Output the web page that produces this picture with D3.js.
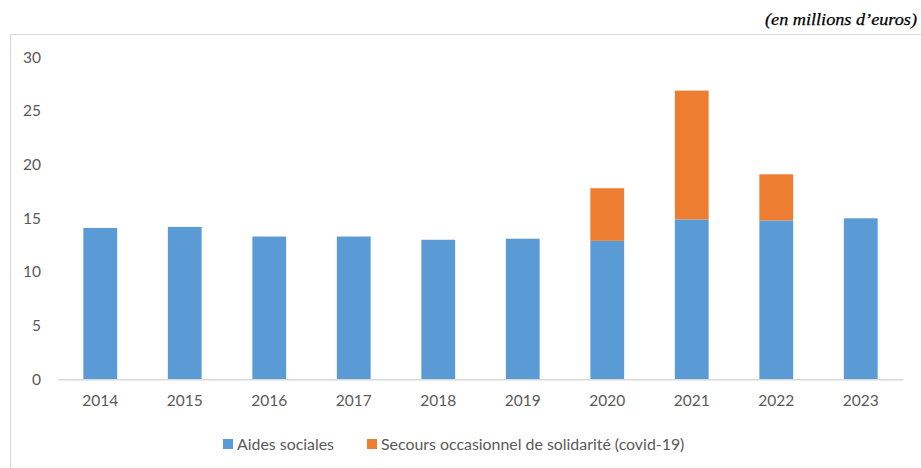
<!DOCTYPE html>
<html lang="fr">
<head>
<meta charset="utf-8">
<script src="https://cdn.jsdelivr.net/npm/d3@7"></script>
<style>
  html, body { margin: 0; padding: 0; background: #fff; }
  svg { display: block; }
</style>
</head>
<body>
<svg id="chart" width="921" height="468"></svg>
<script>
// Years on the category axis
const years = ["2014", "2015", "2016", "2017", "2018", "2019", "2020", "2021", "2022", "2023"];
// Aides sociales (millions d'euros)
const aidesSociales = [14.1, 14.2, 13.3, 13.3, 13.0, 13.1, 12.9, 14.9, 14.8, 15.0];
// Secours occasionnel de solidarité (covid-19), stacked on top
const secoursCovid = [0, 0, 0, 0, 0, 0, 4.9, 12.0, 4.3, 0];
// Value axis ticks
const yTicks = [0, 5, 10, 15, 20, 25, 30];
const seriesNames = ["Aides sociales", "Secours occasionnel de solidarité (covid-19)"];
const seriesColors = ["#5b9bd5", "#ed7d31"];

const svg = d3.select("#chart");
const font = "Lato, 'Open Sans', sans-serif";
const textColor = "#595959";

const margin = { left: 58, right: 18, top: 57.3, bottom: 88.7 };
const W = 921, H = 468;

const x = d3.scaleBand()
  .domain(years)
  .range([margin.left, W - margin.right])
  .paddingInner(0.6)
  .paddingOuter(0.3);

const y = d3.scaleLinear()
  .domain([0, 30])
  .range([H - margin.bottom, margin.top]);

// Outer frame (top and left edges visible)
svg.append("path")
  .attr("d", `M10.5,${H} L10.5,34.5 L${W},34.5`)
  .attr("fill", "none")
  .attr("stroke", "#d9d9d9")
  .attr("stroke-width", 1.2);

// Unit caption
svg.append("text")
  .attr("x", 917)
  .attr("y", 25)
  .attr("text-anchor", "end")
  .attr("font-family", "'Liberation Serif', 'Times New Roman', serif")
  .attr("font-style", "italic")
  .attr("font-size", 17)
  .attr("fill", "#000")
  .attr("stroke", "#000")
  .attr("stroke-width", 0.25)
  .attr("textLength", 152)
  .attr("lengthAdjust", "spacingAndGlyphs")
  .text("(en millions d\u2019euros)");

// Stacked data
const rows = years.map((yr, i) => ({ year: yr, a: aidesSociales[i], s: secoursCovid[i] }));
const stack = d3.stack().keys(["a", "s"]);
const layers = stack(rows);

svg.append("g")
  .selectAll("g")
  .data(layers)
  .join("g")
  .attr("fill", (d, i) => seriesColors[i])
  .selectAll("rect")
  .data(d => d.filter(p => p[1] - p[0] > 0))
  .join("rect")
  .attr("x", d => x(d.data.year))
  .attr("width", x.bandwidth())
  .attr("y", d => y(d[1]))
  .attr("height", d => y(d[0]) - y(d[1]));

// Value axis (labels only)
const yAxis = svg.append("g")
  .attr("transform", `translate(41,0)`)
  .call(d3.axisLeft(y).tickValues(yTicks).tickSize(0).tickPadding(0));
yAxis.select(".domain").remove();
yAxis.selectAll("text")
  .attr("font-family", font)
  .attr("font-size", 15.5)
  .attr("fill", textColor);

// Category axis
const xAxis = svg.append("g")
  .attr("transform", `translate(0,${y(0)})`)
  .call(d3.axisBottom(x).tickSize(0).tickPadding(16));
xAxis.select(".domain")
  .attr("stroke", "#d9d9d9")
  .attr("stroke-width", 1.5);
xAxis.selectAll("text")
  .attr("font-family", font)
  .attr("font-size", 15.5)
  .attr("fill", textColor);

// Legend
const legendItems = [
  { x: 223, name: seriesNames[0], color: seriesColors[0] },
  { x: 367, name: seriesNames[1], color: seriesColors[1] }
];
const legend = svg.append("g");
legendItems.forEach(it => {
  legend.append("rect")
    .attr("x", it.x).attr("y", 439)
    .attr("width", 10).attr("height", 10)
    .attr("fill", it.color);
  legend.append("text")
    .attr("x", it.x + 14).attr("y", 444)
    .attr("dy", "0.35em")
    .attr("font-family", font)
    .attr("font-size", 15.9)
    .attr("fill", textColor)
    .text(it.name);
});
</script>
</body>
</html>
